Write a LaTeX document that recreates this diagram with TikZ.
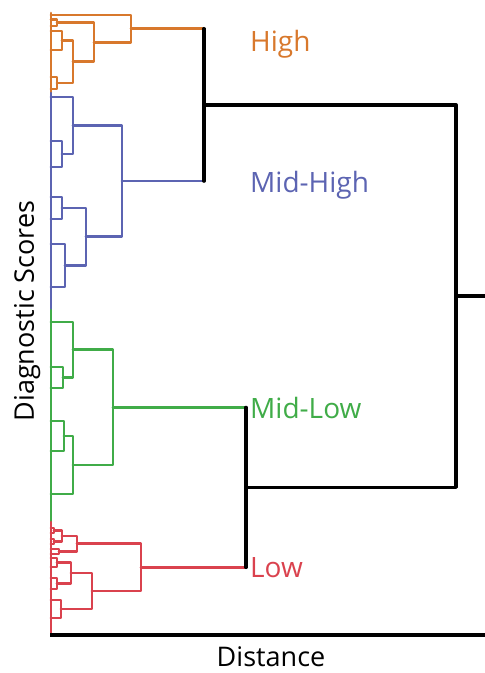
\documentclass[tikz,border=0pt]{standalone}
\usepackage{fontspec}
\setmainfont{Open Sans}
\usetikzlibrary{calc}
\definecolor{cHigh}{RGB}{216,120,44}
\definecolor{cMH}{RGB}{92,100,178}
\definecolor{cML}{RGB}{64,172,72}
\definecolor{cLow}{RGB}{218,66,78}
\tikzset{
  cl/.style={line width=2.7pt, line cap=round, line join=round},
  blk/.style={line width=3.3pt, line cap=round, line join=round, black},
  lab/.style={anchor=base west, inner sep=0pt, font=\fontsize{28}{32}\selectfont},
  axt/.style={inner sep=0pt, font=\fontsize{27}{32}\selectfont, black}
}
% merge: #1 style, #2 name, #3 child a, #4 child b, #5 x position
\newcommand\mrg[5]{%
  \coordinate (X#2) at (#5,0);
  \draw[#1] (#3) -- (#3 -| X#2) -- (#4 -| X#2) -- (#4);
  \coordinate (#2) at ($(#3 -| X#2)!0.5!(#4 -| X#2)$);}
\newcommand\lf[2]{\coordinate (#1) at (51,#2);}
\begin{document}
\begin{tikzpicture}[x=1pt,y=-1pt]
\useasboundingbox (0,0) rectangle (485,673);
% colored axis
\draw[cl,cHigh] (51,13) -- (51,93);
\draw[cl,cMH] (51,93) -- (51,310);
\draw[cl,cML] (51,310) -- (51,522);
\draw[cl,cLow] (51,522) -- (51,634);
% High (orange)
\lf{o1}{15}\lf{o2}{19.5}\lf{o3}{26}\lf{o4}{31}\lf{o5}{50}\lf{o6}{77}\lf{o7}{89}
\mrg{cl,cHigh}{C}{o2}{o3}{57}
\mrg{cl,cHigh}{E}{o4}{o5}{62}
\mrg{cl,cHigh}{F}{o6}{o7}{57}
\mrg{cl,cHigh}{D}{E}{F}{73}
\mrg{cl,cHigh}{B}{C}{D}{94}
\mrg{cl,cHigh}{A}{o1}{B}{131}
% Mid-High (blue)
\lf{b1}{97}\lf{b2}{141}\lf{b3}{167}\lf{b4}{197}\lf{b5}{219}\lf{b6}{244}\lf{b7}{287}
\mrg{cl,cMH}{H}{b2}{b3}{62}
\mrg{cl,cMH}{G}{b1}{H}{73}
\mrg{cl,cMH}{J}{b4}{b5}{62}
\mrg{cl,cMH}{K}{b6}{b7}{65}
\mrg{cl,cMH}{I}{J}{K}{86}
\mrg{cl,cMH}{MH}{G}{I}{122}
% Mid-Low (green)
\lf{g1}{322}\lf{g2}{367}\lf{g3}{388}\lf{g4}{421}\lf{g5}{451}\lf{g6}{494}
\mrg{cl,cML}{M}{g2}{g3}{63}
\mrg{cl,cML}{L}{g1}{M}{73}
\mrg{cl,cML}{O}{g4}{g5}{64}
\mrg{cl,cML}{N}{O}{g6}{73}
\mrg{cl,cML}{ML}{L}{N}{113}
% Low (red)
\lf{r1}{528}\lf{r2}{533}\lf{r3}{539}\lf{r4}{544}\lf{r5}{549}\lf{r6}{554}
\lf{r7}{558}\lf{r8}{567}\lf{r9}{578}\lf{r10}{589}\lf{r11}{600}\lf{r12}{618}
\mrg{cl,cLow}{R}{r1}{r2}{54}
\mrg{cl,cLow}{S}{r3}{r4}{54}
\mrg{cl,cLow}{Q}{R}{S}{62}
\mrg{cl,cLow}{T}{r5}{r6}{59}
\mrg{cl,cLow}{P}{Q}{T}{77}
\mrg{cl,cLow}{W}{r7}{r8}{57}
\mrg{cl,cLow}{X}{r9}{r10}{57}
\mrg{cl,cLow}{V}{W}{X}{71}
\mrg{cl,cLow}{Y}{r11}{r12}{61}
\mrg{cl,cLow}{U}{V}{Y}{92}
\mrg{cl,cLow}{LOW}{P}{U}{141}
% black top level
\coordinate (XHH) at (204,0);
\coordinate (XLL) at (246,0);
\coordinate (XR) at (456,0);
\coordinate (stub) at (485,296);
\draw[cl,cHigh] (A) -- (A -| XHH);
\draw[cl,cMH] (MH) -- (MH -| XHH);
\draw[blk] (A -| XHH) -- (MH -| XHH);
\coordinate (HH) at ($(A -| XHH)!0.5!(MH -| XHH)$);
\draw[cl,cML] (ML) -- (ML -| XLL);
\draw[cl,cLow] (LOW) -- (LOW -| XLL);
\draw[blk] (ML -| XLL) -- (LOW -| XLL);
\coordinate (LL) at ($(ML -| XLL)!0.5!(LOW -| XLL)$);
\draw[blk] (HH) -- (HH -| XR) -- (LL -| XR) -- (LL);
\draw[blk] (stub -| XR) -- (stub);
% x axis
\coordinate (ax0) at (50,635);
\coordinate (ax1) at (485,635);
\draw[blk,line cap=butt] (ax0) -- (ax1);
% labels
\node[lab,text=cHigh] (tHigh) at (250,51) {High};
\node[lab,text=cMH] (tMH) at (250,192) {Mid-High};
\node[lab,text=cML] (tML) at (250,418) {Mid-Low};
\node[lab,text=cLow] (tLow) at (250,577) {Low};
\node[axt,anchor=base] (tx) at (271,666) {Distance};
\node[axt,anchor=base,rotate=90] (ty) at (34,311) {Diagnostic Scores};
\end{tikzpicture}
\end{document}
